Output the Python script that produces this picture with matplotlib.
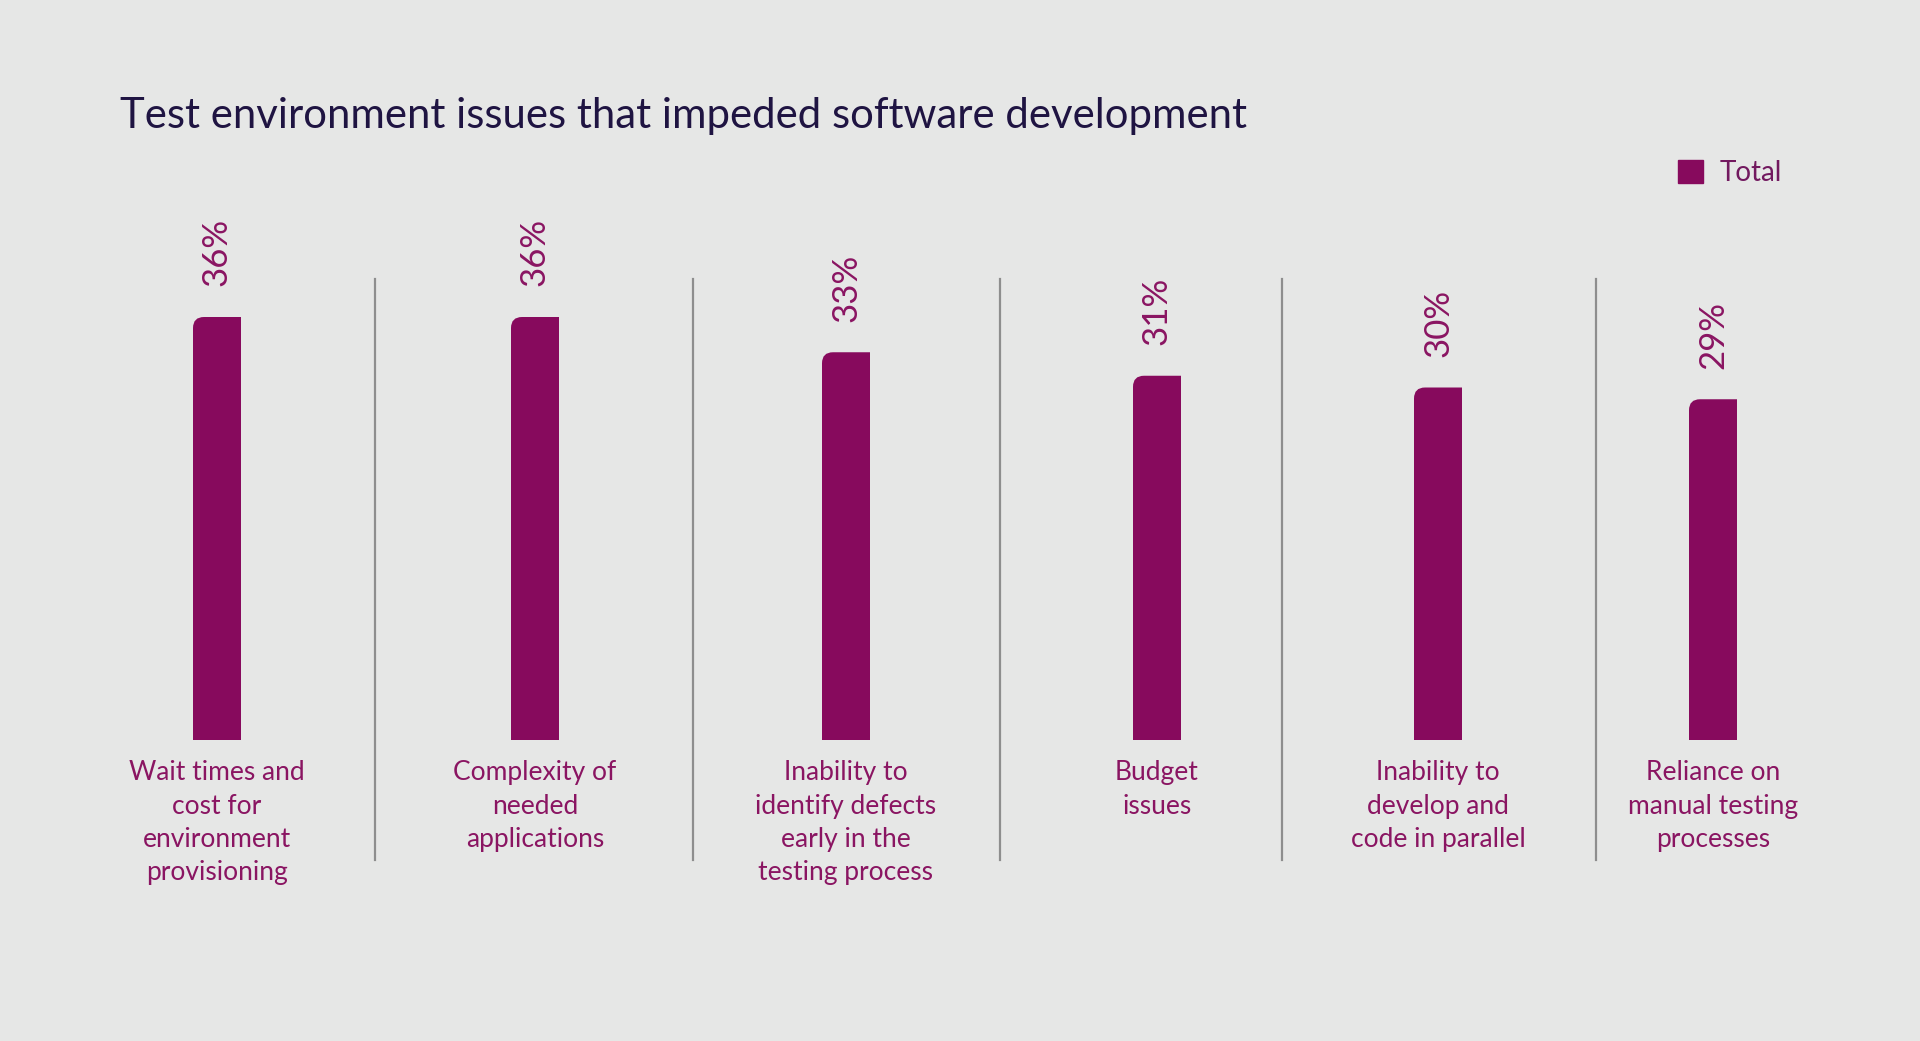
import matplotlib.pyplot as plt
from matplotlib.path import Path
from matplotlib.patches import PathPatch

categories = [
    "Wait times and\ncost for\nenvironment\nprovisioning",
    "Complexity of\nneeded\napplications",
    "Inability to\nidentify defects\nearly in the\ntesting process",
    "Budget\nissues",
    "Inability to\ndevelop and\ncode in parallel",
    "Reliance on\nmanual testing\nprocesses",
]
values = [36, 36, 33, 31, 30, 29]
series_name = "Total"
title = "Test environment issues that impeded software development"

# layout (pixel columns of the slide)
slot_centers = [217, 535, 846, 1157, 1438, 1713]
separators = [375, 693, 1000, 1282, 1596]

BG = "#e6e7e6"
BAR = "#870a5d"
LABEL = "#8a1562"
TITLE = "#1f1442"

plt.rcParams['font.family'] = ['Lato', 'DejaVu Sans']

W, H = 1920, 1041
fig = plt.figure(figsize=(W / 100, H / 100), dpi=100, facecolor=BG)
ax = fig.add_axes([0, (H - 740) / H, 1, 470 / H])
ax.set_facecolor(BG)
ax.set_xlim(0, W)
ax.set_ylim(0, 40)
ax.axis("off")

bars = ax.bar(slot_centers, values, width=48, color=BAR, label=series_name)

# round off the top-left corner of each bar
rx = 11
ry = rx * 40 / 470
for p in bars.patches:
    x0, y0 = p.get_x(), p.get_y()
    x1, y1 = x0 + p.get_width(), y0 + p.get_height()
    verts = [(x0, y0), (x1, y0), (x1, y1), (x0 + rx, y1), (x0, y1), (x0, y1 - ry), (x0, y0)]
    codes = [Path.MOVETO, Path.LINETO, Path.LINETO, Path.LINETO,
             Path.CURVE3, Path.CURVE3, Path.CLOSEPOLY]
    ax.add_patch(PathPatch(Path(verts, codes), facecolor=BAR, edgecolor="none"))
    p.set_visible(False)

for x, v in zip(slot_centers, values):
    ax.annotate(f"{v}%", (x, v), xytext=(0, 22), textcoords="offset points",
                rotation=90, ha="center", va="bottom", fontsize=25, color=LABEL)

for x, c in zip(slot_centers, categories):
    ax.annotate(c, (x, 0), xytext=(0, -14.5), textcoords="offset points",
                ha="center", va="top", fontsize=19, color=LABEL, linespacing=1.42)

for s in separators:
    ax.axvline(s, ymin=(740 - 860) / 470, ymax=(740 - 279) / 470,
               color="#8e8e8e", lw=1.6, clip_on=False)

fig.text(120 / W, 1 - 116 / H, title, fontsize=30.2, color=TITLE, va="center", ha="left")

handle = plt.Rectangle((0, 0), 1, 1, color=BAR)
fig.legend(handles=[handle], labels=[series_name], loc="center left",
           bbox_to_anchor=(1653 / W, 1 - 173 / H), frameon=False,
           fontsize=20, handlelength=0.9, handleheight=0.9, handletextpad=0.6,
           labelcolor="#72195f")

fig.savefig("out.png", dpi=100, facecolor=BG)
